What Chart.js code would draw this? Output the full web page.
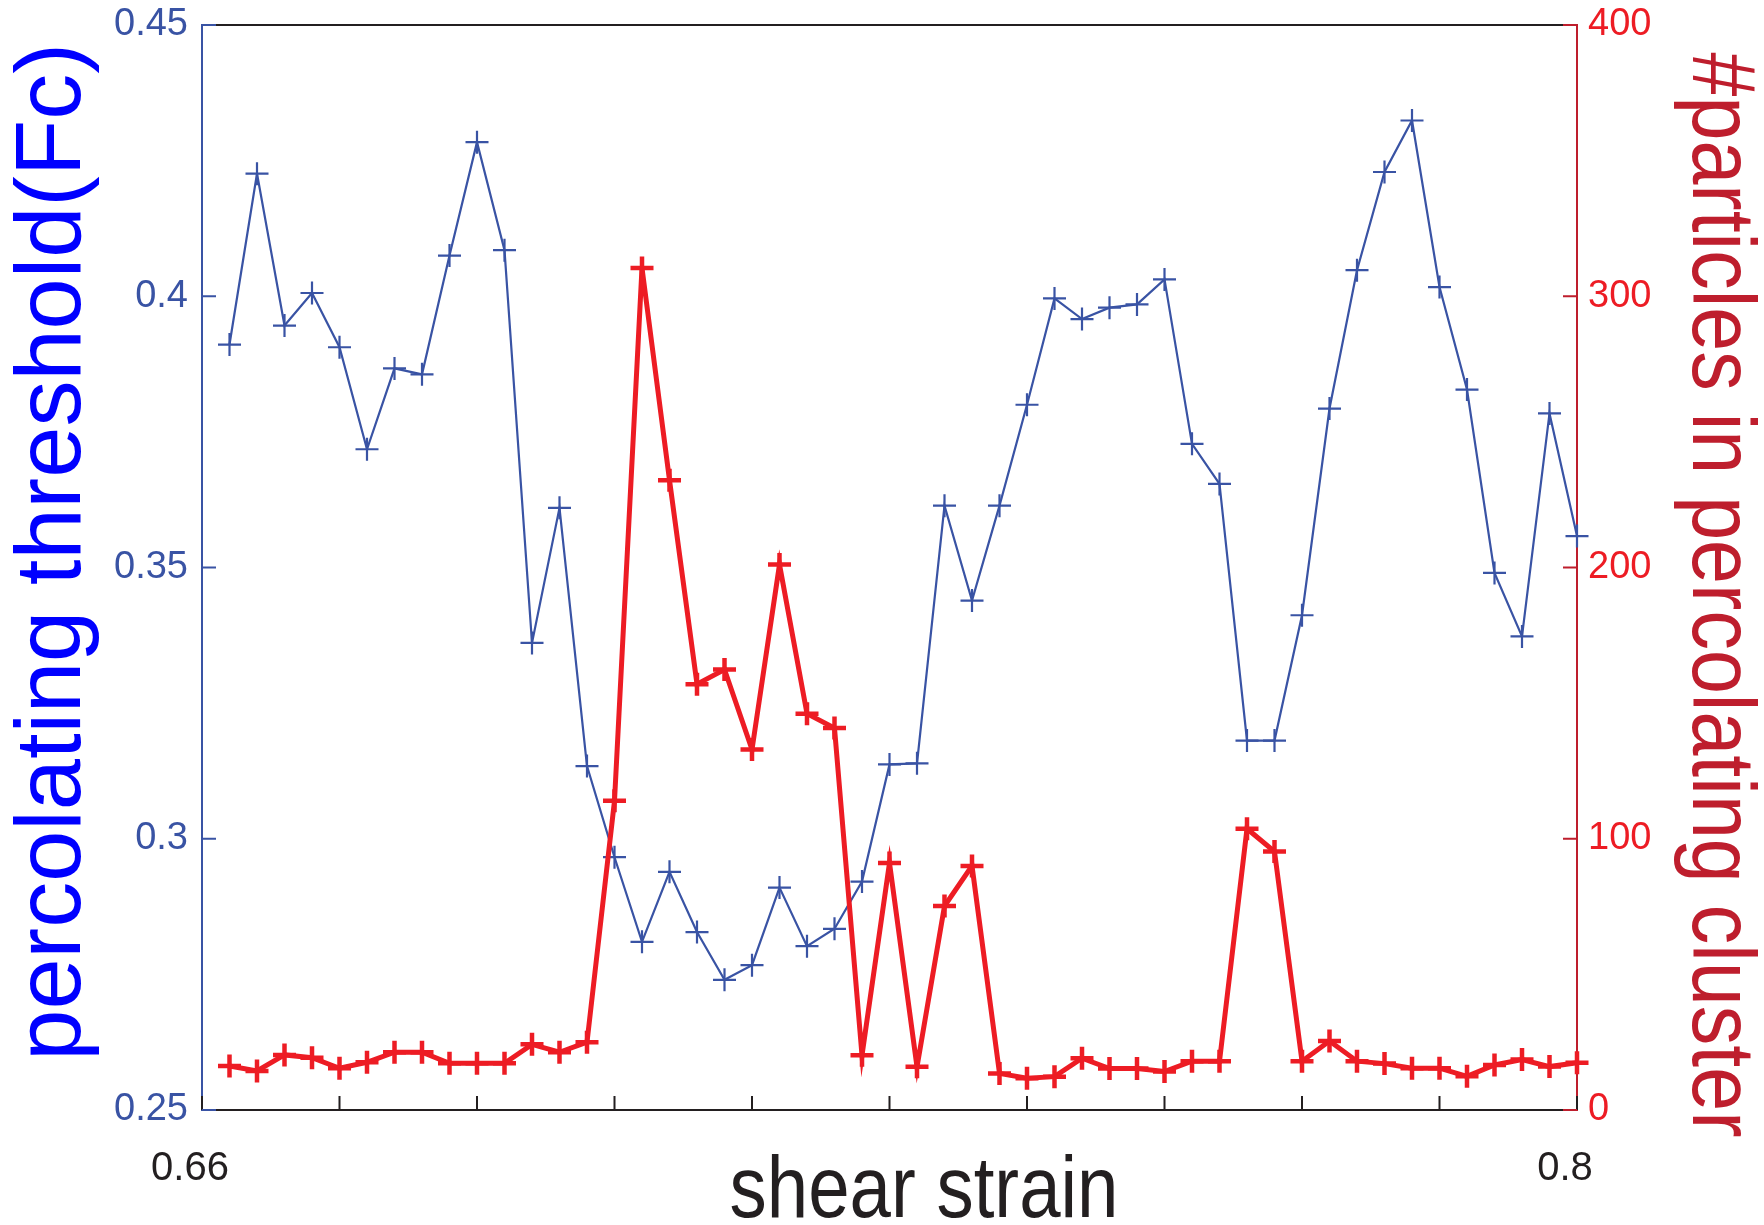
<!DOCTYPE html>
<html>
<head>
<meta charset="utf-8">
<title>percolating threshold vs shear strain</title>
<script src="https://cdn.jsdelivr.net/npm/chart.js@4.4.1/dist/chart.umd.min.js"></script>
<style>
  html, body { margin: 0; padding: 0; background: #fff; }
  #wrap { width: 1764px; height: 1225px; position: relative; }
</style>
</head>
<body>
<div id="wrap"><canvas id="strainChart"></canvas></div>
<script>
// shear strain of each sample
const strain = [
  0.6628, 0.6656, 0.6684, 0.6712, 0.6740, 0.6768, 0.6796, 0.6824, 0.6852, 0.6880,
  0.6908, 0.6936, 0.6964, 0.6992, 0.7020, 0.7048, 0.7076, 0.7104, 0.7132, 0.7160,
  0.7188, 0.7216, 0.7244, 0.7272, 0.7300, 0.7328, 0.7356, 0.7384, 0.7412, 0.7440,
  0.7468, 0.7496, 0.7524, 0.7552, 0.7580, 0.7608, 0.7636, 0.7664, 0.7692, 0.7720,
  0.7748, 0.7776, 0.7804, 0.7832, 0.7860, 0.7888, 0.7916, 0.7944, 0.7972, 0.8000
];

// percolating threshold Fc (left axis)
const threshold = [
  0.3911, 0.4226, 0.3946, 0.4006, 0.3906, 0.3718, 0.3867, 0.3856, 0.4075, 0.4284,
  0.4085, 0.3361, 0.3610, 0.3134, 0.2966, 0.2810, 0.2939, 0.2828, 0.2740, 0.2767,
  0.2910, 0.2802, 0.2834, 0.2921, 0.3137, 0.3139, 0.3614, 0.3439, 0.3614, 0.3800,
  0.3996, 0.3958, 0.3979, 0.3985, 0.4031, 0.3728, 0.3654, 0.3181, 0.3181, 0.3412,
  0.3793, 0.4048, 0.4229, 0.4324, 0.4017, 0.3828, 0.3490, 0.3373, 0.3784, 0.3558
];

// particles in the percolating cluster (right axis)
const clusterSize = [
  16.2, 14.4, 20.3, 19.3, 15.4, 17.6, 21.3, 21.3, 17.2, 17.2,
  17.2, 24.2, 21.3, 25.0, 114.0, 310.4, 232.2, 157.0, 162.4, 132.9,
  201.1, 146.1, 140.8, 20.2, 91.1, 15.9, 75.2, 90.0, 13.5, 11.7,
  12.3, 19.1, 15.3, 15.3, 14.2, 18.0, 18.0, 103.7, 95.3, 18.0,
  25.4, 18.0, 17.1, 15.4, 15.4, 12.4, 16.6, 18.6, 16.0, 17.4
];

const strainTicks = [0.66, 0.674, 0.688, 0.702, 0.716, 0.73, 0.744, 0.758, 0.772, 0.786, 0.8];
const strainTickLabels = ['0.66', '', '', '', '', '', '', '', '', '', '0.8'];
const thresholdTicks = [0.25, 0.3, 0.35, 0.4, 0.45];
const thresholdTickLabels = ['0.25', '0.3', '0.35', '0.4', '0.45'];
const clusterTicks = [0, 100, 200, 300, 400];
const clusterTickLabels = ['0', '100', '200', '300', '400'];

const blue = '#3953a4';
const red = '#ed1c24';
const darkRed = '#be1e2d';
const ink = '#231f20';
const FONT = '"Liberation Sans", Arial, Helvetica, sans-serif';

// inward tick marks, top edge and the axis titles
const frameAndTitles = {
  id: 'frameAndTitles',
  beforeDatasetsDraw(chart) {
    const { ctx, chartArea: a, scales } = chart;
    const len = 14;
    ctx.save();
    ctx.lineWidth = 2;

    ctx.strokeStyle = ink;
    ctx.beginPath();
    ctx.moveTo(a.left, a.top);
    ctx.lineTo(a.right, a.top);
    strainTicks.forEach(v => {
      const x = scales.x.getPixelForValue(v);
      ctx.moveTo(x, a.bottom);
      ctx.lineTo(x, a.bottom - len);
    });
    ctx.stroke();

    ctx.strokeStyle = blue;
    ctx.beginPath();
    thresholdTicks.forEach(v => {
      const y = scales.yFc.getPixelForValue(v);
      ctx.moveTo(a.left, y);
      ctx.lineTo(a.left + len, y);
    });
    ctx.stroke();

    ctx.strokeStyle = darkRed;
    ctx.beginPath();
    clusterTicks.forEach(v => {
      const y = scales.yN.getPixelForValue(v);
      ctx.moveTo(a.right, y);
      ctx.lineTo(a.right - len, y);
    });
    ctx.stroke();
    ctx.restore();
  },
  afterDraw(chart) {
    const { ctx } = chart;
    ctx.save();
    ctx.textAlign = 'center';
    ctx.textBaseline = 'alphabetic';

    // left title
    ctx.save();
    ctx.translate(80, 552);
    ctx.rotate(-Math.PI / 2);
    ctx.font = '92px ' + FONT;
    ctx.fillStyle = '#0000ff';
    ctx.fillText('percolating threshold(Fc)', 0, 0);
    ctx.restore();

    // right title
    ctx.save();
    ctx.translate(1693, 595);
    ctx.rotate(Math.PI / 2);
    ctx.scale(0.888, 1);
    ctx.font = '89px ' + FONT;
    ctx.fillStyle = darkRed;
    ctx.fillText('#particles in percolating cluster', 0, 0);
    ctx.restore();

    // bottom title
    ctx.save();
    ctx.translate(924, 1217);
    ctx.scale(0.846, 1);
    ctx.font = '88px ' + FONT;
    ctx.fillStyle = ink;
    ctx.fillText('shear strain', 0, 0);
    ctx.restore();

    ctx.restore();
  }
};

document.addEventListener('DOMContentLoaded', function () {
  const canvas = document.getElementById('strainChart');

  const config = {
    type: 'line',
    data: {
      datasets: [
        {
          label: '#particles in percolating cluster',
          data: strain.map((x, i) => ({ x: x, y: clusterSize[i] })),
          yAxisID: 'yN',
          borderColor: red,
          borderWidth: 5,
          pointStyle: 'cross',
          pointRadius: 11.5,
          pointBorderWidth: 4.5,
          pointBorderColor: red,
          tension: 0,
          clip: false,
          order: 0
        },
        {
          label: 'percolating threshold(Fc)',
          data: strain.map((x, i) => ({ x: x, y: threshold[i] })),
          yAxisID: 'yFc',
          borderColor: blue,
          borderWidth: 2.2,
          pointStyle: 'cross',
          pointRadius: 11.5,
          pointBorderWidth: 2.2,
          pointBorderColor: blue,
          tension: 0,
          clip: false,
          order: 1
        }
      ]
    },
    options: {
      responsive: true,
      maintainAspectRatio: false,
      devicePixelRatio: 1,
      animation: false,
      events: [],
      layout: { padding: { top: 25, left: 0, right: 0, bottom: 0 } },
      plugins: {
        legend: { display: false },
        tooltip: { enabled: false }
      },
      scales: {
        x: {
          type: 'linear',
          min: 0.66,
          max: 0.8,
          afterBuildTicks: scale => { scale.ticks = strainTicks.map(v => ({ value: v })); },
          afterFit: scale => {
            scale.height = 115;
            scale.paddingLeft = 0;
            scale.paddingRight = 0;
          },
          grid: { display: false, drawTicks: false },
          border: { display: true, color: ink, width: 2 },
          ticks: {
            autoSkip: false,
            maxRotation: 0,
            padding: 35,
            labelOffset: -12,
            color: ink,
            font: { family: FONT, size: 40 },
            callback: (value, index) => strainTickLabels[index]
          }
        },
        yFc: {
          type: 'linear',
          position: 'left',
          min: 0.25,
          max: 0.45,
          afterBuildTicks: scale => { scale.ticks = thresholdTicks.map(v => ({ value: v })); },
          afterFit: scale => {
            scale.width = 202;
            scale.paddingTop = 0;
            scale.paddingBottom = 0;
          },
          grid: { display: false, drawTicks: false },
          border: { display: true, color: blue, width: 2 },
          ticks: {
            padding: 14,
            color: blue,
            font: { family: FONT, size: 38 },
            callback: (value, index) => thresholdTickLabels[index]
          }
        },
        yN: {
          type: 'linear',
          position: 'right',
          min: 0,
          max: 400,
          afterBuildTicks: scale => { scale.ticks = clusterTicks.map(v => ({ value: v })); },
          afterFit: scale => {
            scale.width = 187;
            scale.paddingTop = 0;
            scale.paddingBottom = 0;
          },
          grid: { display: false, drawTicks: false },
          border: { display: true, color: darkRed, width: 2 },
          ticks: {
            padding: 11,
            color: red,
            font: { family: FONT, size: 38 },
            callback: (value, index) => clusterTickLabels[index]
          }
        }
      }
    },
    plugins: [frameAndTitles]
  };

  new Chart(canvas, config);
});
</script>
</body>
</html>
